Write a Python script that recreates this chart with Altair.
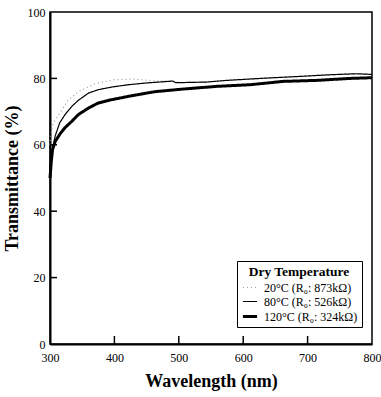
import altair as alt
import pandas as pd

# --- data ---
series_names = ["20°C (R₀: 873kΩ)", "80°C (R₀: 526kΩ)", "120°C (R₀: 324kΩ)"]

wl_20 = [300, 302, 305, 310, 318, 328, 344, 370, 400, 430, 460, 490, 495, 543, 574, 636, 688, 735, 776, 800]
t_20 = [60, 64, 66.5, 68, 70.4, 73.4, 76.0, 78.4, 79.6, 79.8, 79.3, 79.2, 78.8, 78.9, 79.4, 80.1, 80.6, 81.1, 81.4, 81.2]

wl_80 = [300, 303, 308, 315, 323, 334, 344, 360, 375, 396, 422, 448, 455, 491, 495, 543, 574, 636, 688, 735, 776, 800]
t_80 = [52, 58, 62.6, 66.6, 69, 71.6, 73.4, 75.6, 76.6, 77.4, 78.1, 78.6, 78.7, 79.2, 78.7, 78.9, 79.4, 80.1, 80.6, 81.1, 81.4, 81.2]

wl_120 = [300, 302, 304, 308, 316, 323, 334, 344, 360, 375, 396, 422, 448, 463, 507, 559, 611, 662, 714, 766, 800]
t_120 = [50, 55, 58.6, 61, 63.4, 65.1, 67.1, 69.1, 71.1, 72.6, 73.6, 74.6, 75.5, 76, 76.8, 77.6, 78.1, 79.1, 79.4, 80, 80.2]

x_ticks = [300, 400, 500, 600, 700, 800]
y_ticks = [0, 20, 40, 60, 80, 100]
x_inner_ticks = [400, 500, 600, 700]
y_inner_ticks = [20, 40, 60, 80]

rows = []
for name, wls, ts in zip(series_names, [wl_20, wl_80, wl_120], [t_20, t_80, t_120]):
    for w, t in zip(wls, ts):
        rows.append({"wl": w, "t": t, "series": name})
df = pd.DataFrame(rows)

FONT = "Liberation Serif"

x_scale = alt.Scale(domain=[300, 800], nice=False, zero=False)
y_scale = alt.Scale(domain=[0, 100], nice=False)

leg = alt.Legend(title="Dry Temperature")

lines = alt.Chart(df).mark_line(interpolate="linear").encode(
    x=alt.X("wl:Q", scale=x_scale,
            axis=alt.Axis(values=x_ticks, title="Wavelength (nm)", tickSize=0,
                          labelPadding=8, grid=False, domainWidth=2, labelFlush=False,
                          domainColor="black", titlePadding=9,
                          labelFont=FONT, titleFont=FONT)),
    y=alt.Y("t:Q", scale=y_scale,
            axis=alt.Axis(values=y_ticks, title="Transmittance (%)", tickSize=0,
                          labelPadding=5, grid=False, domainWidth=2, labelFlush=False,
                          domainColor="black", titlePadding=6,
                          labelFont=FONT, titleFont=FONT)),
    color=alt.Color("series:N", scale=alt.Scale(type="ordinal", domain=series_names,
                                                 range=["#9a9a9a", "black", "black"]),
                    legend=leg),
    strokeDash=alt.StrokeDash("series:N", scale=alt.Scale(type="ordinal", domain=series_names,
                                                           range=[[1, 3], [1, 0], [1, 0]]),
                              legend=leg),
    strokeWidth=alt.StrokeWidth("series:N", scale=alt.Scale(type="ordinal", domain=series_names,
                                                             range=[1.2, 1.2, 3]),
                                legend=leg),
)

xt = alt.Chart(pd.DataFrame({"wl": x_inner_ticks})).mark_rule(color="black", strokeWidth=1.5).encode(
    x=alt.X("wl:Q"),
    y=alt.value(332), y2=alt.value(324),
)
yt = alt.Chart(pd.DataFrame({"t": y_inner_ticks})).mark_rule(color="black", strokeWidth=1.5).encode(
    y=alt.Y("t:Q"),
    x=alt.value(0), x2=alt.value(7),
)

chart = alt.layer(lines, xt, yt).properties(
    width=322, height=332,
    autosize=alt.AutoSizeParams(type="none"),
    padding={"left": 50, "top": 12, "right": 9, "bottom": 53},
).configure_view(
    stroke="black", strokeWidth=1.5
).configure_axis(
    labelFont=FONT, labelFontSize=12, labelColor="black",
    titleFont=FONT, titleFontSize=18, titleFontWeight="bold", titleColor="black",
).configure_legend(
    orient="none", legendX=187, legendY=249,
    titleFont=FONT, titleFontSize=13.5, titleFontWeight="bold", titleColor="black",
    labelFont=FONT, labelFontSize=12, labelColor="black",
    strokeColor="black", padding=4, symbolType="stroke", symbolSize=200,
    rowPadding=0, titlePadding=1, titleAlign="center", titleAnchor="middle",
    fillColor="white", labelOffset=5,
)

chart.save("out.html", embed_options={"renderer": "svg", "actions": False})
